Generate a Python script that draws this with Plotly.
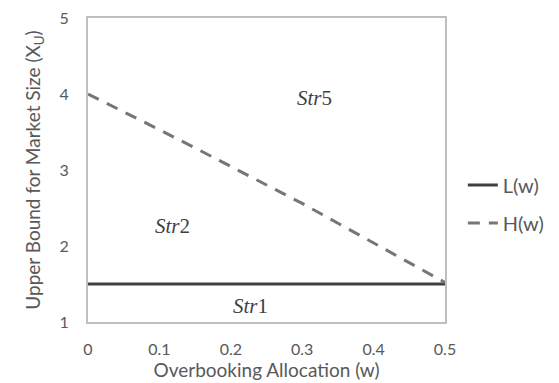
import plotly.graph_objects as go

w_vals = [0, 0.05, 0.1, 0.15, 0.2, 0.25, 0.3, 0.35, 0.4, 0.45, 0.5]
L_vals = [1.5] * 11
H_vals = [4.0, 3.77, 3.53, 3.29, 3.05, 2.81, 2.56, 2.30, 2.04, 1.78, 1.52]

x_ticks = [0, 0.1, 0.2, 0.3, 0.4, 0.5]
x_ticktext = ["0", "0.1", "0.2", "0.3", "0.4", "0.5"]
y_ticks = [1, 2, 3, 4, 5]

region_labels = ["<i>Str</i>1", "<i>Str</i>2", "<i>Str</i>5"]
region_x = [0.228, 0.119, 0.317]
region_y = [1.21, 2.26, 3.95]

font_fam = "Lato, Open Sans, sans-serif"
tick_col = "#595959"

fig = go.Figure()
fig.add_trace(go.Scatter(x=w_vals, y=L_vals, mode="lines", name="L(w)", legend="legend",
                         line=dict(color="#404040", width=3)))
fig.add_trace(go.Scatter(x=w_vals, y=H_vals, mode="lines", name="H(w)", legend="legend2",
                         line=dict(color="#767676", width=3, dash="12px,9px")))

for t, xv, yv in zip(region_labels, region_x, region_y):
    fig.add_annotation(x=xv, y=yv, text=t, showarrow=False,
                       font=dict(family="Liberation Serif, DejaVu Serif, serif", size=21, color="#404040"))

leg_common = dict(xanchor="left", yanchor="middle", font=dict(size=20, color=tick_col),
                  itemwidth=30, bgcolor="rgba(0,0,0,0)")

fig.update_layout(
    width=559, height=383,
    margin=dict(l=80, r=122, t=10, b=69, autoexpand=False),
    paper_bgcolor="white", plot_bgcolor="white",
    font=dict(family=font_fam, color=tick_col, size=16),
    showlegend=True,
    legend=dict(x=1.05, y=0.4507, **leg_common),
    legend2=dict(x=1.05, y=0.3257, **leg_common),
    xaxis=dict(range=[0, 0.5], tickvals=x_ticks, ticktext=x_ticktext,
               showgrid=False, zeroline=False, showline=True, mirror=True,
               linecolor="#bfbfbf", linewidth=2, ticks="", automargin=False,
               ticklabeloverflow="allow",
               tickfont=dict(size=16, color=tick_col), ticklabelstandoff=12,
               title=dict(text="Overbooking Allocation (w)", font=dict(size=19, color=tick_col), standoff=0)),
    yaxis=dict(range=[1, 5], tickvals=y_ticks,
               showgrid=False, zeroline=False, showline=True, mirror=True,
               linecolor="#bfbfbf", linewidth=2, ticks="", automargin=False,
               ticklabeloverflow="allow",
               tickfont=dict(size=16, color=tick_col), ticklabelstandoff=14,
               title=dict(text="Upper Bound for Market Size (X<sub>U</sub>)", font=dict(size=19, color=tick_col), standoff=14)),
)

fig.write_html("out.html")
